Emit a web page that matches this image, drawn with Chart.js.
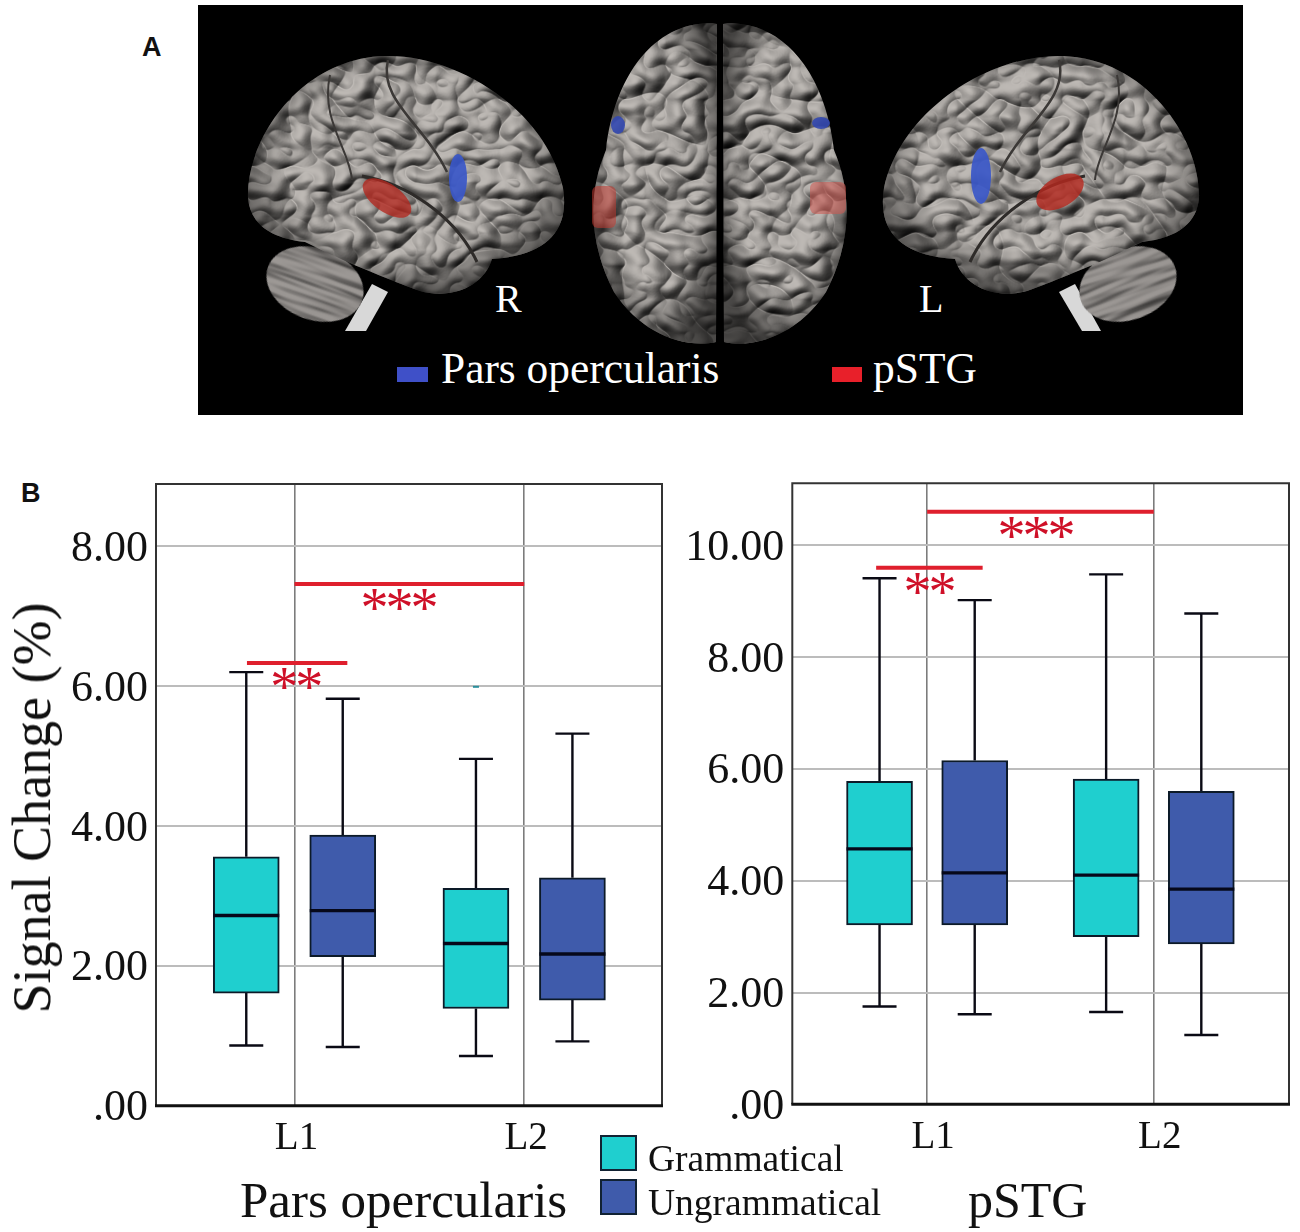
<!DOCTYPE html>
<html>
<head>
<meta charset="utf-8">
<title>Signal change in pars opercularis and pSTG</title>
<script src="https://cdn.jsdelivr.net/npm/chart.js@4"></script>
<style>
  html, body { margin: 0; padding: 0; background: #fff; }
  #page { position: relative; width: 1300px; height: 1232px; overflow: hidden; font-family: "Liberation Serif", serif; }
  #page canvas, #page svg { position: absolute; }
  .txt { position: absolute; white-space: nowrap; line-height: 1; color: #111; }
  .panel { font-family: "Liberation Sans", sans-serif; font-weight: bold; font-size: 27px; }
  .white { color: #fff; }
  .swatch { position: absolute; box-sizing: border-box; border: 2px solid #123; }
</style>
</head>
<body>
<div id="page">
  <svg width="1300" height="420" viewBox="0 0 1300 420" style="left:0;top:0">
    <defs>
      <filter id="gyri" x="0" y="0" width="1" height="1" color-interpolation-filters="sRGB">
        <feTurbulence type="turbulence" baseFrequency="0.024 0.03" numOctaves="2" seed="11" result="n"/>
        <feGaussianBlur in="n" stdDeviation="0.7" result="soft"/>
        <feDiffuseLighting in="soft" surfaceScale="11" diffuseConstant="1.1" lighting-color="#aca8a4" result="lit">
          <feDistantLight azimuth="235" elevation="60"/>
        </feDiffuseLighting>
        <feComposite in="lit" in2="SourceGraphic" operator="in"/>
      </filter>
      <filter id="folds" x="0" y="0" width="1" height="1" color-interpolation-filters="sRGB">
        <feTurbulence type="fractalNoise" baseFrequency="0.012 0.09" numOctaves="2" seed="4" result="n"/>
        <feDiffuseLighting in="n" surfaceScale="4" diffuseConstant="1.05" lighting-color="#96928f" result="lit">
          <feDistantLight azimuth="250" elevation="60"/>
        </feDiffuseLighting>
        <feComposite in="lit" in2="SourceGraphic" operator="in"/>
      </filter>
      <radialGradient id="edge" cx="0.5" cy="0.45" r="0.58">
        <stop offset="0.66" stop-color="#000" stop-opacity="0"/>
        <stop offset="1" stop-color="#000" stop-opacity="0.6"/>
      </radialGradient>
    </defs>
    <rect x="198" y="5" width="1045" height="410" fill="#000"/>

    <!-- right view -->
    <path d="M345,331 L366,331 L388,292 L372,284 Z" fill="#d8d8d8"/>
    <ellipse cx="315" cy="284" rx="50" ry="36" transform="rotate(20 315 284)" filter="url(#folds)"/>
    <path id="cortexR" filter="url(#gyri)" d="M248,198 C246,140 300,58 385,56 C455,54 545,108 563,188 C570,232 545,256 492,259 C484,286 452,300 420,291 C392,281 345,262 305,242 C268,238 250,222 248,198 Z"/>
    <path fill="url(#edge)" d="M248,198 C246,140 300,58 385,56 C455,54 545,108 563,188 C570,232 545,256 492,259 C484,286 452,300 420,291 C392,281 345,262 305,242 C268,238 250,222 248,198 Z"/>
    <path d="M362,176 C405,183 455,215 477,262" fill="none" stroke="#2e2b29" stroke-width="3"/>
    <path d="M388,60 C378,100 425,125 447,172" fill="none" stroke="#3b3836" stroke-width="2.5"/>
    <path d="M330,75 C320,120 350,150 352,180" fill="none" stroke="#3b3836" stroke-width="2"/>

    <!-- left view -->
    <path d="M1082,331 L1101,331 L1075,284 L1059,292 Z" fill="#d8d8d8"/>
    <ellipse cx="1128" cy="284" rx="50" ry="36" transform="rotate(-20 1128 284)" filter="url(#folds)"/>
    <path filter="url(#gyri)" d="M1199,198 C1201,140 1147,58 1062,56 C992,54 902,108 884,188 C877,232 902,256 955,259 C963,286 995,300 1027,291 C1055,281 1102,262 1142,242 C1179,238 1197,222 1199,198 Z"/>
    <path fill="url(#edge)" d="M1199,198 C1201,140 1147,58 1062,56 C992,54 902,108 884,188 C877,232 902,256 955,259 C963,286 995,300 1027,291 C1055,281 1102,262 1142,242 C1179,238 1197,222 1199,198 Z"/>
    <path d="M1085,176 C1042,183 992,215 970,262" fill="none" stroke="#2e2b29" stroke-width="3"/>
    <path d="M1059,60 C1069,100 1022,125 1000,172" fill="none" stroke="#3b3836" stroke-width="2.5"/>
    <path d="M1117,75 C1127,120 1097,150 1095,180" fill="none" stroke="#3b3836" stroke-width="2"/>

    <!-- top view -->
    <path filter="url(#gyri)" d="M717,24 C660,18 615,70 606,150 C588,192 588,242 614,292 C640,332 682,349 716,342 Z"/>
    <path fill="url(#edge)" d="M717,24 C660,18 615,70 606,150 C588,192 588,242 614,292 C640,332 682,349 716,342 Z"/>
    <path filter="url(#gyri)" d="M723,24 C780,18 825,70 834,150 C852,192 852,242 826,292 C800,332 758,349 724,342 Z"/>
    <path fill="url(#edge)" d="M723,24 C780,18 825,70 834,150 C852,192 852,242 826,292 C800,332 758,349 724,342 Z"/>
    <path d="M720,22 L720,345" stroke="#000" stroke-width="3"/>

    <ellipse cx="458" cy="178" rx="9" ry="24" fill="#3a57c8" opacity="0.92"/>
    <ellipse cx="387" cy="198" rx="28" ry="14" transform="rotate(35 387 198)" fill="#b3281f" opacity="0.78"/>
    <ellipse cx="981" cy="176" rx="10" ry="28" fill="#3a57c8" opacity="0.92"/>
    <ellipse cx="1060" cy="192" rx="26" ry="15" transform="rotate(-30 1060 192)" fill="#b3281f" opacity="0.82"/>
    <ellipse cx="618" cy="125" rx="7" ry="9" fill="#3348b0" opacity="0.9"/>
    <ellipse cx="821" cy="123" rx="9" ry="6" fill="#3348b0" opacity="0.9"/>
    <rect x="592" y="186" width="24" height="42" rx="6" fill="#c0392f" opacity="0.55"/>
    <rect x="810" y="182" width="36" height="32" rx="6" fill="#d0554f" opacity="0.55"/>
    <rect x="397" y="367" width="31" height="15" fill="#3f50c8"/>
    <rect x="832" y="367" width="30" height="15" fill="#e8202a"/>
  </svg>

  <span class="txt panel" style="left:142px;top:34px">A</span>
  <span class="txt panel" style="left:21px;top:480px">B</span>
  <span class="txt white" style="left:495px;top:279px;font-size:40px">R</span>
  <span class="txt white" style="left:919px;top:279px;font-size:40px">L</span>
  <span class="txt white" style="left:441px;top:347px;font-size:43.4px">Pars opercularis</span>
  <span class="txt white" style="left:873px;top:347px;font-size:43.5px">pSTG</span>

  <canvas id="parsChart" width="680" height="740" style="left:0;top:440px"></canvas>
  <canvas id="pstgChart" width="620" height="740" style="left:680px;top:440px"></canvas>

  <span class="txt" style="left:32px;top:808px;font-size:54px;transform:translate(-50%,-50%) rotate(-90deg)">Signal Change (%)</span>
  <span class="txt" style="left:240px;top:1175px;font-size:51px">Pars opercularis</span>
  <span class="txt" style="left:968px;top:1175px;font-size:50px">pSTG</span>
  <div id="legend"></div>
</div>

<script>
// Values: [low whisker, Q1, median, Q3, high whisker], one row per category
const categories = ['L1', 'L2'];
const seriesNames = ['Grammatical', 'Ungrammatical'];
const seriesColors = ['#1fcfcf', '#3f5bab'];

const parsGrammatical = [[0.86, 1.61, 2.72, 3.56, 6.20], [0.71, 1.39, 2.32, 3.11, 4.96]];
const parsUngrammatical = [[0.84, 2.13, 2.79, 3.87, 5.82], [0.92, 1.51, 2.17, 3.26, 5.32]];
const pstgGrammatical = [[1.75, 3.21, 4.57, 5.78, 9.41], [1.65, 3.00, 4.10, 5.82, 9.48]];
const pstgUngrammatical = [[1.61, 3.21, 4.14, 6.15, 9.02], [1.24, 2.87, 3.85, 5.60, 8.78]];

const parsTicks = [0, 2, 4, 6, 8];
const pstgTicks = [0, 2, 4, 6, 8, 10];

// Significance bars: [from, to, value, stars]
const parsSig = [[0, 1, 7.46, '***'], [-0.207, 0.23, 6.33, '**']];
const pstgSig = [[0, 1, 10.6, '***'], [-0.225, 0.245, 9.6, '**']];
// small stray mark on the L2 grammatical whisker line
const parsOutliers = [[1 - 0.21, 5.99]];

const boxOffset = 0.21;

const boxPlugin = {
  id: 'boxPlugin',
  beforeDatasetsDraw(chart) {
    const { ctx, scales: { x, y } } = chart;
    ctx.save();
    ctx.strokeStyle = '#0a0a14';
    ctx.lineWidth = 2.4;
    chart.data.datasets.forEach(ds => {
      ds.stats.forEach((s, i) => {
        const px = x.getPixelForValue(ds.data[i].x);
        ctx.beginPath();
        ctx.moveTo(px, y.getPixelForValue(s[0]));
        ctx.lineTo(px, y.getPixelForValue(s[1]));
        ctx.moveTo(px, y.getPixelForValue(s[3]));
        ctx.lineTo(px, y.getPixelForValue(s[4]));
        [s[0], s[4]].forEach(v => {
          ctx.moveTo(px - 17, y.getPixelForValue(v));
          ctx.lineTo(px + 17, y.getPixelForValue(v));
        });
        ctx.stroke();
      });
    });
    ctx.restore();
  },
  afterDatasetsDraw(chart, args, opts) {
    const { ctx, chartArea, scales: { x, y } } = chart;
    ctx.save();
    // medians
    ctx.strokeStyle = '#06081a';
    ctx.lineWidth = 3.4;
    chart.data.datasets.forEach(ds => {
      ds.stats.forEach((s, i) => {
        const px = x.getPixelForValue(ds.data[i].x);
        ctx.beginPath();
        ctx.moveTo(px - 33, y.getPixelForValue(s[2]));
        ctx.lineTo(px + 33, y.getPixelForValue(s[2]));
        ctx.stroke();
      });
    });
    // stray mark
    ctx.strokeStyle = '#2a8f9c';
    ctx.lineWidth = 2;
    (opts.outliers || []).forEach(o => {
      ctx.beginPath();
      ctx.moveTo(x.getPixelForValue(o[0]) - 3, y.getPixelForValue(o[1]));
      ctx.lineTo(x.getPixelForValue(o[0]) + 3, y.getPixelForValue(o[1]));
      ctx.stroke();
    });
    // frame
    ctx.strokeStyle = '#333';
    ctx.lineWidth = 2;
    ctx.beginPath();
    ctx.moveTo(chartArea.left, chartArea.bottom);
    ctx.lineTo(chartArea.left, chartArea.top);
    ctx.lineTo(chartArea.right, chartArea.top);
    ctx.lineTo(chartArea.right, chartArea.bottom);
    ctx.stroke();
    ctx.strokeStyle = '#111';
    ctx.lineWidth = 3;
    ctx.beginPath();
    ctx.moveTo(chartArea.left - 1, chartArea.bottom);
    ctx.lineTo(chartArea.right + 1, chartArea.bottom);
    ctx.stroke();
    // significance bars and stars
    opts.sig.forEach(b => {
      const x0 = x.getPixelForValue(b[0]), x1 = x.getPixelForValue(b[1]), py = y.getPixelForValue(b[2]);
      ctx.strokeStyle = '#df1f2d';
      ctx.lineWidth = 4;
      ctx.beginPath();
      ctx.moveTo(x0, py);
      ctx.lineTo(x1, py);
      ctx.stroke();
      ctx.fillStyle = '#cf1028';
      ctx.font = '56px "Liberation Serif"';
      ctx.letterSpacing = '-3px';
      ctx.textAlign = 'center';
      ctx.textBaseline = 'alphabetic';
      ctx.fillText(b[3], (b[3] === '***' ? opts.starX3 : (x0 + x1) / 2 + opts.starX2), py + 43);
    });
    ctx.restore();
  }
};

function boxDatasets(gram, ungram) {
  return [gram, ungram].map((rows, k) => ({
    label: seriesNames[k],
    stats: rows,
    data: rows.map((s, i) => ({ x: i + (k === 0 ? -boxOffset : boxOffset), y: [s[1], s[3]] })),
    backgroundColor: seriesColors[k],
    borderColor: '#0c1a28',
    borderWidth: 2,
    borderSkipped: false,
    barThickness: 66,
    grouped: false
  }));
}

function drawBox(id, cfg) {
  new Chart(document.getElementById(id), {
    type: 'bar',
    data: { datasets: boxDatasets(cfg.gram, cfg.ungram) },
    options: {
      responsive: false,
      animation: false,
      layout: { padding: { top: cfg.top, right: cfg.right, left: 0, bottom: 0 } },
      plugins: {
        legend: { display: false },
        tooltip: { enabled: false },
        boxPlugin: { sig: cfg.sig, outliers: cfg.outliers, starX2: cfg.starX2, starX3: cfg.starX3 }
      },
      scales: {
        x: {
          type: 'linear',
          offset: false,
          min: cfg.xMin,
          max: cfg.xMax,
          afterBuildTicks: s => { s.ticks = categories.map((c, i) => ({ value: i })); },
          afterFit: s => { s.height = cfg.xHeight; },
          grid: { offset: false, color: '#7c7c7c', lineWidth: 1.6, drawTicks: false },
          border: { display: false },
          ticks: {
            color: '#111',
            font: { family: 'Liberation Serif', size: 39 },
            padding: 10,
            maxRotation: 0,
            labelOffset: cfg.labelOffset,
            callback: v => categories[v]
          }
        },
        y: {
          min: 0,
          max: cfg.yMax,
          afterBuildTicks: s => { s.ticks = cfg.ticks.map(v => ({ value: v })); },
          afterFit: s => { s.width = cfg.yWidth; },
          grid: { color: c => (c.tick.value === 0 ? 'rgba(0,0,0,0)' : '#bcbcbc'), lineWidth: 2, drawTicks: false },
          border: { display: false },
          ticks: {
            color: '#111',
            font: { family: 'Liberation Serif', size: 44 },
            padding: 8,
            labelOffset: 3,
            callback: v => (v === 0 ? '.00' : v.toFixed(2))
          }
        }
      }
    },
    plugins: [boxPlugin]
  });
}

drawBox('parsChart', {
  gram: parsGrammatical, ungram: parsUngrammatical, ticks: parsTicks, sig: parsSig, outliers: parsOutliers,
  top: 44, right: 18, yWidth: 156, xHeight: 74.3, yMax: 8.89, xMin: -0.603, xMax: 1.6,
  labelOffset: 2, starX2: -2, starX3: 398
});
drawBox('pstgChart', {
  gram: pstgGrammatical, ungram: pstgUngrammatical, ticks: pstgTicks, sig: pstgSig, outliers: [],
  top: 43.3, right: 11, yWidth: 112.3, xHeight: 75.7, yMax: 11.11, xMin: -0.595, xMax: 1.597,
  labelOffset: 6, starX2: -1, starX3: 355
});

// legend sits between the two panels, same as the figure
const legendBox = document.getElementById('legend');
seriesNames.forEach((name, i) => {
  const top = 1135 + i * 44;
  legendBox.insertAdjacentHTML('beforeend',
    `<div class="swatch" style="left:600px;top:${top}px;width:37px;height:36px;background:${seriesColors[i]}"></div>` +
    `<span class="txt" style="left:648px;top:${top + 5}px;font-size:37.5px">${name}</span>`);
});
</script>
</body>
</html>
